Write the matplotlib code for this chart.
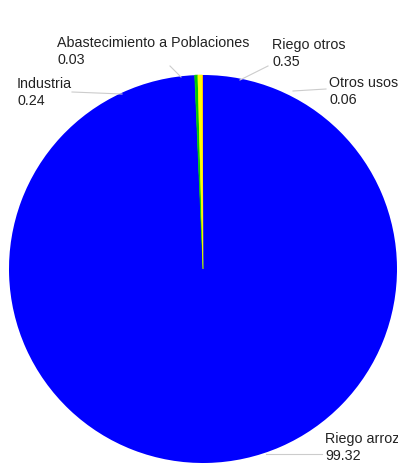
import matplotlib
matplotlib.use("Agg")
import matplotlib.pyplot as plt

usos = ["Riego arroz", "Industria", "Abastecimiento a Poblaciones", "Riego otros", "Otros usos"]
valores = [99.32, 0.24, 0.03, 0.35, 0.06]
colores = ["#0000ff", "#00c800", "#80e000", "#ffff00", "#ff9900"]

# posicion de etiquetas en pixeles (x, y arriba) y linea guia
etiquetas = {
    "Riego arroz": ((325, 432), [(266, 454), (322, 454)]),
    "Industria": ((17, 77), [(72, 92), (122, 94)]),
    "Abastecimiento a Poblaciones": ((57, 36), [(170, 66), (181, 77)]),
    "Riego otros": ((272, 38), [(240, 80), (268, 66)]),
    "Otros usos": ((329, 76), [(293, 91), (326, 89)]),
}

W, H = 398, 466
cx, cy, r = 203, 269, 194


def px(x, y):
    return (x - cx) / r, (cy - y) / r


fig = plt.figure(figsize=(W / 100, H / 100), dpi=100)
ax = fig.add_axes([0, 0, 1, 1])
ax.axis("off")

wedges, _ = ax.pie(valores, colors=colores, startangle=90, counterclock=False,
                   radius=1, center=(0, 0), frame=False)
for w, c, v in zip(wedges, colores, valores):
    w.set_edgecolor(c)
    w.set_linewidth(0.5 if 0.1 < v < 50 else 0)
ax.set_xlim(-cx / r, (W - cx) / r)
ax.set_ylim((cy - H) / r, cy / r)
ax.set_aspect("auto")

for uso, valor in zip(usos, valores):
    (tx, ty), linea = etiquetas[uso]
    x, y = px(tx, ty)
    ax.text(x, y, f"{uso}\n{valor:.2f}", ha="left", va="top",
            fontsize=10.3, family="Liberation Sans", color="#222222",
            linespacing=1.3)
    xs, ys = zip(*[px(a, b) for a, b in linea])
    ax.plot(xs, ys, color="#cccccc", linewidth=0.8)

fig.savefig("out.png", dpi=100)
